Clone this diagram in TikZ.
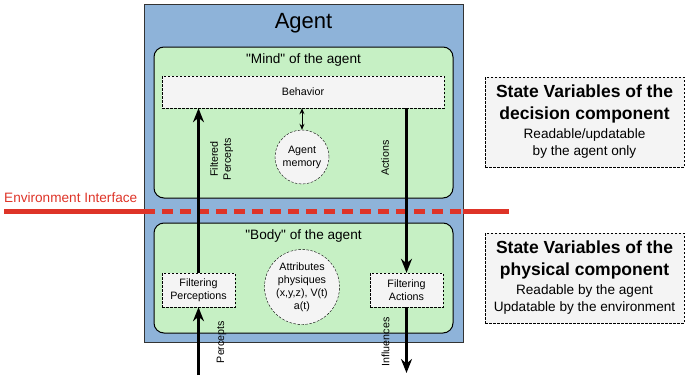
\documentclass[tikz,border=0pt]{standalone}
\usepackage{fontspec}
\setmainfont{Liberation Sans}
\usetikzlibrary{arrows.meta}
\definecolor{agentblue}{RGB}{142,179,217}
\definecolor{mindgreen}{RGB}{198,240,196}
\definecolor{boxgray}{RGB}{244,244,244}
\definecolor{envred}{RGB}{222,52,40}
\begin{document}
\begin{tikzpicture}[x=1pt, y=-1pt,
	part/.style={draw, line width=1pt, rounded corners=10pt, fill=mindgreen, minimum width=299pt},
	filterbox/.style={draw, dash pattern=on 2.5pt off 1.5pt, fill=boxgray, align=center, inner sep=1pt, font=\fontsize{10.7}{13}\selectfont},
	blob/.style={circle, draw, dash pattern=on 2.5pt off 1.5pt, fill=boxgray, align=center, inner sep=0pt, font=\fontsize{10.7}{13}\selectfont},
	flow/.style={line width=2.5pt, -{Stealth[length=14pt,width=11pt]}},
	lbl/.style={rotate=90, align=center, inner sep=0pt, font=\fontsize{10.7}{13}\selectfont},
	title/.style={font=\fontsize{13.6}{16}\selectfont},
	varbox/.style={draw, dash pattern=on 2.5pt off 1.5pt, fill=boxgray, align=center, minimum width=199pt, minimum height=90pt, font=\fontsize{13.6}{17}\selectfont},
	envline/.style={envred, line width=5pt}]
	\useasboundingbox (0,0) rectangle (685,375);
	\node[draw=black!80, fill=agentblue, minimum width=319pt, minimum height=338pt] (agent) at (303.5,173) {};
	\node[font=\fontsize{22}{26}\selectfont] (agenttitle) at (303.5,23) {Agent};
	\node[part, minimum height=151pt] (mind) at (303.5,122.5) {};
	\node[title] (mindtitle) at (303.5,60) {\textquotedbl Mind\textquotedbl{} of the agent};
	\node[part, minimum height=110pt] (body) at (303.5,278) {};
	\node[title] (bodytitle) at (303.5,236) {\textquotedbl Body\textquotedbl{} of the agent};
	\coordinate (envL) at (4,211);
	\coordinate (envR) at (509,211);
	\draw[envline] (envL) -- (envL -| agent.west);
	\draw[envline, dash pattern=on 11pt off 7pt] (envL -| agent.west) -- (envR -| agent.east);
	\draw[envline] (envR -| agent.east) -- (envR);
	\node[title, text=envred, anchor=west, inner sep=0pt] (envlbl) at (4,198) {Environment Interface};
	\node[filterbox, minimum width=282pt, minimum height=32pt] (behavior) at (303,92) {Behavior};
	\node[blob, minimum size=54pt] (memory) at (302,157) {Agent\\memory};
	\node[blob, minimum size=75pt] (attr) at (302,287) {Attributes\\physiques\\(x,y,z), V(t)\\a(t)};
	\node[filterbox, minimum width=73pt, minimum height=34pt] (filtp) at (198.5,290) {Filtering\\Perceptions};
	\node[filterbox, minimum width=73pt, minimum height=34pt] (filta) at (406.5,290) {Filtering\\Actions};
	\coordinate (pin) at (198.5,375);
	\coordinate (iout) at (406.5,373);
	\draw[flow] (pin) -- (filtp);
	\draw[flow] (filtp) -- (filtp |- behavior.south);
	\draw[flow] (filta |- behavior.south) -- (filta);
	\draw[flow] (filta) -- (iout);
	\draw[line width=1pt, {Stealth[length=6pt,width=5pt]}-{Stealth[length=6pt,width=5pt]}] (behavior.south -| memory) -- (memory);
	\node[lbl] (filtlbl) at (221.5,159) {Filtered\\Percepts};
	\node[lbl] (actlbl) at (385,158) {Actions};
	\node[lbl] (perclbl) at (221.5,342) {Percepts};
	\node[lbl] (inflbl) at (385.5,342) {Influences};
	\node[varbox] (decvars) at (584.5,122) {{\fontsize{17.5}{22}\bfseries State Variables of the}\\[5pt]{\fontsize{17.5}{22}\bfseries decision component}\\[2pt]Readable/updatable\\by the agent only};
	\node[varbox] (physvars) at (584.5,278) {{\fontsize{17.5}{22}\bfseries State Variables of the}\\[5pt]{\fontsize{17.5}{22}\bfseries physical component}\\[2pt]Readable by the agent\\Updatable by the environment};
\end{tikzpicture}
\end{document}
